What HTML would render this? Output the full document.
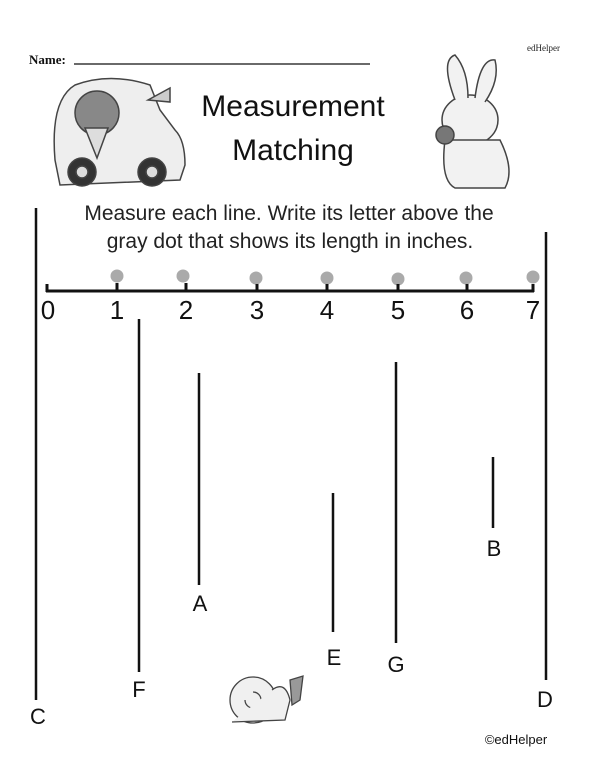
<!DOCTYPE html>
<html><head><meta charset="utf-8"><style>
html,body{margin:0;padding:0;background:#fff;}
svg{display:block;}
.s{font-family:"Liberation Sans",sans-serif;fill:#111;}
</style></head><body>
<svg width="600" height="776" viewBox="0 0 600 776" xmlns="http://www.w3.org/2000/svg">
<text x="560" y="51" font-family="Liberation Serif,serif" font-size="9" text-anchor="end" fill="#222">edHelper</text>
<text x="29" y="64" font-family="Liberation Serif,serif" font-size="13" font-weight="bold" fill="#111">Name:</text>
<line x1="74" y1="64" x2="370" y2="64" stroke="#111" stroke-width="1.3"/>

<!-- truck -->
<g stroke="#444" stroke-width="1.5" fill="#eee">
<path d="M55 160 Q50 100 75 85 Q110 72 150 85 L160 110 L175 130 Q185 140 185 165 L180 180 L60 185 Z"/>
<circle cx="97" cy="113" r="22" fill="#888"/>
<path d="M85 128 L97 158 L108 128 Z" fill="#ddd"/>
<circle cx="82" cy="172" r="14" fill="#333"/><circle cx="82" cy="172" r="6" fill="#ddd"/>
<circle cx="152" cy="172" r="14" fill="#333"/><circle cx="152" cy="172" r="6" fill="#ddd"/>
<path d="M148 100 L170 88 L170 102 Z" fill="#ccc"/>
</g>
<!-- bunny -->
<g stroke="#444" stroke-width="1.5" fill="#f2f2f2">
<ellipse cx="470" cy="120" rx="28" ry="25"/>
<path d="M455 100 Q440 60 455 55 Q468 70 468 98"/>
<path d="M475 98 Q480 58 495 60 Q500 80 485 102"/>
<path d="M445 140 Q440 180 455 188 L505 188 Q515 170 500 140 Z"/>
<circle cx="445" cy="135" r="9" fill="#777"/>
</g>
<!-- snail -->
<g stroke="#444" stroke-width="1.3" fill="#f0f0f0">
<circle cx="253" cy="700" r="23"/>
<path d="M253 700 m-8 0 a8 8 0 1 0 8 -8" fill="none"/>
<path d="M272 690 Q285 680 290 700 L285 720 L232 722" />
<path d="M290 680 L303 676 L300 700 L292 705 Z" fill="#999"/>
</g>

<text class="s" x="293" y="116" font-size="30" text-anchor="middle">Measurement</text>
<text class="s" x="293" y="160" font-size="30" text-anchor="middle">Matching</text>
<text class="s" x="289" y="220" font-size="21" text-anchor="middle" style="fill:#222">Measure each line. Write its letter above the</text>
<text class="s" x="290" y="248" font-size="21" text-anchor="middle" style="fill:#222">gray dot that shows its length in inches.</text>

<g fill="#aaa">
<circle cx="117" cy="276" r="6.5"/><circle cx="183" cy="276" r="6.5"/><circle cx="256" cy="278" r="6.5"/>
<circle cx="327" cy="278" r="6.5"/><circle cx="398" cy="279" r="6.5"/><circle cx="466" cy="278" r="6.5"/><circle cx="533" cy="277" r="6.5"/>
</g>
<g stroke="#111" stroke-width="3" fill="none">
<line x1="46" y1="291" x2="534" y2="291"/>
<line x1="47" y1="284" x2="47" y2="292"/><line x1="117" y1="283" x2="117" y2="292"/>
<line x1="186" y1="283" x2="186" y2="292"/><line x1="257" y1="284" x2="257" y2="292"/>
<line x1="327" y1="284" x2="327" y2="292"/><line x1="398" y1="284" x2="398" y2="292"/>
<line x1="467" y1="284" x2="467" y2="292"/><line x1="533" y1="284" x2="533" y2="292"/>
</g>
<g class="s" font-size="26" text-anchor="middle">
<text x="48" y="319">0</text><text x="117" y="319">1</text><text x="186" y="319">2</text><text x="257" y="319">3</text>
<text x="327" y="319">4</text><text x="398" y="319">5</text><text x="467" y="319">6</text><text x="533" y="319">7</text>
</g>

<g stroke="#111" stroke-width="2.5">
<line x1="36" y1="208" x2="36" y2="700"/>
<line x1="139" y1="319" x2="139" y2="672"/>
<line x1="199" y1="373" x2="199" y2="585"/>
<line x1="333" y1="493" x2="333" y2="632"/>
<line x1="396" y1="362" x2="396" y2="643"/>
<line x1="493" y1="457" x2="493" y2="528"/>
<line x1="546" y1="232" x2="546" y2="680"/>
</g>
<g class="s" font-size="22" text-anchor="middle">
<text x="38" y="724">C</text><text x="139" y="697">F</text><text x="200" y="611">A</text>
<text x="334" y="665">E</text><text x="396" y="672">G</text><text x="494" y="556">B</text><text x="545" y="707">D</text>
</g>
<text class="s" x="516" y="744" font-size="13" text-anchor="middle">©edHelper</text>
</svg>
</body></html>
